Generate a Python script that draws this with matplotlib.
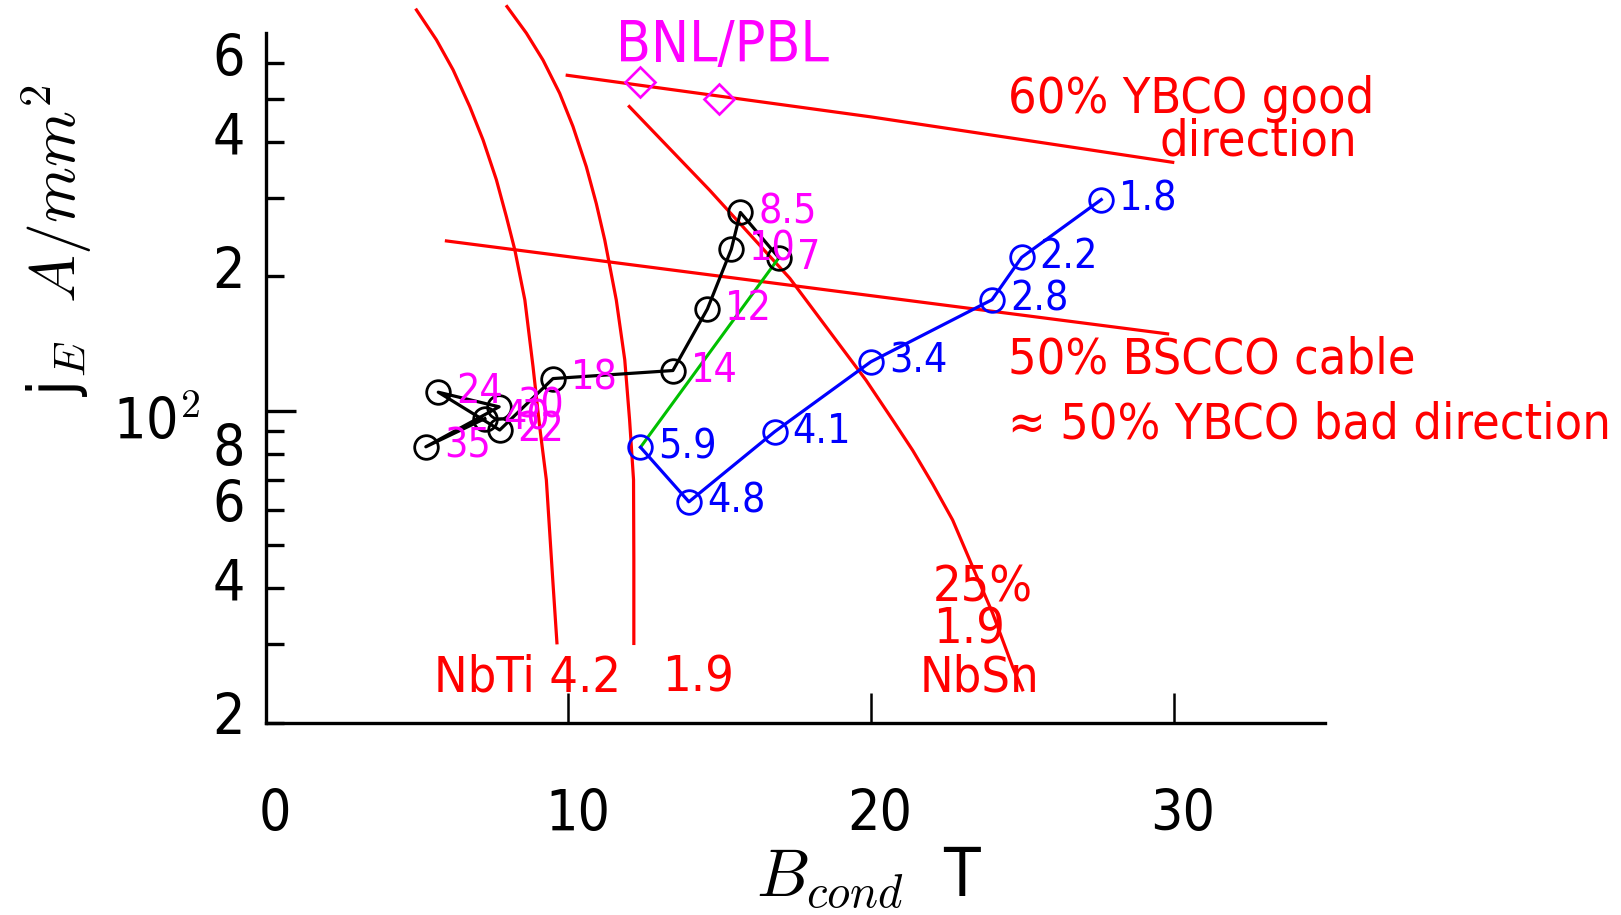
import numpy as np
import matplotlib
matplotlib.use('Agg')
import matplotlib.pyplot as plt
import matplotlib.transforms as mtransforms
from matplotlib.ticker import NullLocator
from matplotlib import font_manager as fm

# pick a narrow sans if there is one, otherwise shrink Liberation Sans a bit
fonts = fm.fontManager.ttflist
names = {f.name for f in fonts}
k = 0.88
if 'Liberation Sans Narrow' in names:
    plt.rcParams['font.family'] = ['Liberation Sans Narrow', 'DejaVu Sans']
    k = 1.0
elif any(f.name == 'DejaVu Sans' and 'condensed' in str(f.stretch) for f in fonts):
    plt.rcParams['font.family'] = ['DejaVu Sans']
    plt.rcParams['font.stretch'] = 'condensed'
    k = 0.95
else:
    plt.rcParams['font.family'] = ['Liberation Sans', 'DejaVu Sans']
plt.rcParams['mathtext.fontset'] = 'cm'

W, H = 1621, 915

# black series (magenta labels)
blk_labels = ['7', '8.5', '10', '12', '14', '18', '22', '24', '30', '35', '40']
blk_b = [16.95, 15.68, 15.38, 14.59, 13.45, 9.49, 7.73, 5.70, 7.71, 5.29, 7.24]
blk_j = [220, 278, 230, 169, 123, 118, 90.5, 110, 102, 83, 96]

# blue series
blu_labels = ['5.9', '4.8', '4.1', '3.4', '2.8', '2.2', '1.8']
blu_b = [12.38, 13.98, 16.81, 19.99, 23.99, 24.97, 27.6]
blu_j = [82.8, 62.5, 89.7, 128.7, 177.2, 220.5, 297]

# BNL/PBL points
bnl_b = [12.35, 14.98]
bnl_j = [546, 499]

# NbTi 4.2 K and 1.9 K curves
nbti42_b = [4.98, 5.64, 6.19, 6.74, 7.18, 7.62, 7.95, 8.23, 8.56, 8.83, 9.05, 9.27, 9.48, 9.62]
nbti42_j = [790, 677, 580, 480, 404, 329, 272, 229, 177, 125.5, 92, 70, 42, 30.2]
nbti19_b = [7.97, 8.61, 9.16, 9.71, 10.15, 10.59, 10.92, 11.20, 11.58, 11.86, 12.02, 12.15, 12.16, 12.16]
nbti19_j = [804, 701, 610, 514, 433, 352, 291, 241, 177, 130, 95.3, 70, 46.3, 30.1]

# Nb3Sn 1.9 K, 25%
nbsn_b = [12.01, 14.66, 17.31, 19.83, 20.71, 21.37, 22.03, 22.69, 23.35, 24.01, 24.67, 25.0]
nbsn_j = [480, 312, 198, 117, 95.3, 81.5, 68.5, 56.9, 44.7, 35.2, 26.7, 23.7]

# HTS lines
ybco_b = [9.96, 20.0, 29.96]
ybco_j = [564, 455, 360]
bscco_b = [5.97, 29.79]
bscco_j = [240, 148.6]

x_ticks = [0, 10, 20, 30]
y_minor = [20, 30, 40, 50, 60, 70, 80, 90, 200, 300, 400, 500, 600]
y_minor_labels = ['2', '', '4', '', '6', '', '8', '', '2', '', '4', '', '6']

red = '#ff0000'
blue = '#0000ff'
mag = '#ff00ff'
green = '#00c000'

fig = plt.figure(figsize=(W / 100, H / 100), dpi=100)
ax = fig.add_axes([265.7 / W, 1 - 722.7 / H, (1325.3 - 265.7) / W, (722.7 - 33.4) / H])
ax.set_yscale('log')
ax.set_xlim(0, 35)
ax.set_ylim(20, 700)
for s in ['top', 'right']:
    ax.spines[s].set_visible(False)
for s in ['left', 'bottom']:
    ax.spines[s].set_linewidth(2.4)

ax.set_xticks(x_ticks)
ax.set_xticklabels([str(t) for t in x_ticks])
ax.xaxis.set_minor_locator(NullLocator())
ax.set_yticks([100])
ax.set_yticklabels(['10$^2$'])
ax.set_yticks(y_minor, minor=True)
ax.set_yticklabels(y_minor_labels, minor=True)
ax.tick_params(axis='x', which='major', direction='in', length=21.6, width=1.8, pad=47, labelsize=43 * k)
ax.tick_params(axis='y', which='major', direction='in', length=21.6, width=2.4, pad=47, labelsize=43 * k)
ax.tick_params(axis='y', which='minor', direction='in', length=13, width=2.4, pad=15, labelsize=43 * k)

dx = mtransforms.ScaledTranslation(9 / 100, 0, fig.dpi_scale_trans)
for lab in ax.get_xticklabels():
    lab.set_transform(lab.get_transform() + dx)
dy = mtransforms.ScaledTranslation(0, 9 / 100, fig.dpi_scale_trans)
for lab in ax.yaxis.get_minorticklabels():
    lab.set_transform(lab.get_transform() + dy)
dy2 = mtransforms.ScaledTranslation(0, -8 / 100, fig.dpi_scale_trans)
for lab in ax.yaxis.get_majorticklabels():
    lab.set_transform(lab.get_transform() + dy2)

# curves
ax.plot(nbti42_b, nbti42_j, color=red, lw=2.3, clip_on=False)
ax.plot(nbti19_b, nbti19_j, color=red, lw=2.3, clip_on=False)
ax.plot(nbsn_b, nbsn_j, color=red, lw=2.3, clip_on=False)
ax.plot(ybco_b, ybco_j, color=red, lw=2.3, clip_on=False)
ax.plot(bscco_b, bscco_j, color=red, lw=2.3, clip_on=False)

ax.plot([blu_b[0], blk_b[0]], [blu_j[0], blk_j[0]], color=green, lw=2.2)
ax.plot(blk_b, blk_j, '-o', color='black', mfc='none', ms=17, mew=2.0, lw=2.3)
ax.plot(blu_b, blu_j, '-o', color=blue, mfc='none', ms=17, mew=2.0, lw=2.3)
ax.plot(bnl_b, bnl_j, 'D', color=mag, mfc='none', ms=15, mew=1.9, ls='none', clip_on=False)

for b, j, s in zip(blk_b, blk_j, blk_labels):
    ax.annotate(s, (b, j), xytext=(18, 0), textcoords='offset pixels',
                color=mag, fontsize=31 * k, ha='left', va='center')
for b, j, s in zip(blu_b, blu_j, blu_labels):
    ax.annotate(s, (b, j), xytext=(18, 0), textcoords='offset pixels',
                color=blue, fontsize=31 * k, ha='left', va='center')


def ftext(x, y, s, **kw):
    fig.text(x / W, 1 - y / H, s, **kw)


fs = 38 * k
ftext(616, 62, 'BNL/PBL', color=mag, fontsize=43 * k, ha='left', va='baseline')
ftext(1008, 113, '60% YBCO good', color=red, fontsize=fs, ha='left', va='baseline')
ftext(1160, 155, 'direction', color=red, fontsize=fs, ha='left', va='baseline')
ftext(1008, 374, '50% BSCCO cable', color=red, fontsize=fs, ha='left', va='baseline')
ftext(1008, 439, '\u2248 50% YBCO bad direction', color=red, fontsize=fs, ha='left', va='baseline')
ftext(933, 602, '25%', color=red, fontsize=fs, ha='left', va='baseline')
ftext(933, 644, '1.9', color=red, fontsize=fs, ha='left', va='baseline')
ftext(920, 692, 'NbSn', color=red, fontsize=fs, ha='left', va='baseline')
ftext(434, 692, 'NbTi 4.2', color=red, fontsize=fs, ha='left', va='baseline')
ftext(662, 692, '1.9', color=red, fontsize=fs, ha='left', va='baseline')

# axis labels
ftext(57, 240, r'j$_E$  $A/mm^2$', fontsize=46, rotation=90, ha='center', va='center')
ftext(869, 897, r'$B_{cond}$  T', fontsize=48, ha='center', va='baseline')

fig.savefig('out.png', dpi=100)
